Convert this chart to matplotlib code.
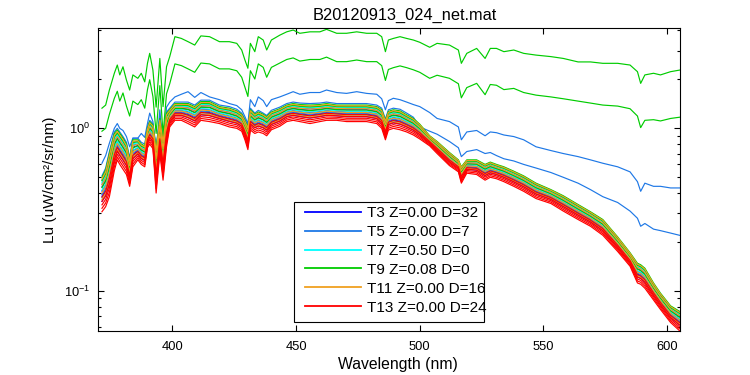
import numpy as np
import matplotlib
matplotlib.use("Agg")
import matplotlib.pyplot as plt
from matplotlib.patches import Rectangle
from matplotlib.ticker import LogLocator, FixedLocator, NullFormatter

plt.rcParams['font.family'] = ['Liberation Sans', 'DejaVu Sans']
plt.rcParams['mathtext.fontset'] = 'custom'
plt.rcParams['mathtext.rm'] = 'Liberation Sans'
plt.rcParams['mathtext.it'] = 'Liberation Sans:italic'

# wavelength grid (nm), shared by all spectra
wl = [371.5, 373, 374.5, 376.5, 377.7, 378.7, 380, 381.4, 382.7, 384, 386, 387.4,
      388.8, 389.9, 390.8, 392.1, 393.4, 394.9, 396.2, 397.6, 398.9, 401, 403.6,
      406.3, 409, 411.5, 415, 419, 423, 426, 428, 429.3, 430.5, 431.5, 433.3, 434.7,
      436.7, 438.1, 440, 443.4, 446.2, 448.8, 451.5, 455.6, 459.6, 462.3, 466.4,
      470.4, 474.5, 478.5, 482.6, 484.6, 486.1, 487.3, 489.3, 492, 494.7, 497.4, 500,
      504, 507, 512, 515.6, 516.8, 519, 523, 526.4, 528.5, 531, 534, 538, 542, 547,
      553, 558, 564, 569, 574, 580, 585, 588, 589.3, 591, 594.5, 597.3, 601.4, 605]

# T9 surface casts (green)
green_1 = [1.33, 1.39, 1.72, 2.18, 2.45, 2.13, 2.39, 1.98, 1.72, 2.13, 2.03, 2.18,
           1.93, 2.51, 2.89, 2.28, 1.35, 2.69, 1.36, 2.39, 2.76, 3.66, 3.57,
           3.41, 3.25, 3.70, 3.66, 3.41, 3.41, 3.33, 3.03, 2.63, 2.34, 3.33, 2.96, 3.66,
           3.49, 3.03, 3.49, 3.74, 3.92, 4.02, 3.84, 3.92, 3.92, 4.06, 3.84,
           3.84, 3.92, 3.84, 3.84, 3.66, 2.96, 3.49, 3.57, 3.66, 3.57, 3.49, 3.38,
           3.15, 3.33, 3.25, 3.03, 2.51, 2.89, 3.10, 2.69, 3.10, 3.10, 2.96, 3.03, 2.89, 2.82,
           2.76, 2.69, 2.56, 2.56, 2.51, 2.51, 2.45, 2.23, 1.89, 2.13, 2.18, 2.13, 2.23, 2.28]
green_2 = [0.96, 1.00, 1.22, 1.53, 1.69, 1.47, 1.65, 1.37, 1.19, 1.47, 1.40, 1.50,
           1.33, 1.73, 1.99, 1.57, 0.93, 1.83, 0.92, 1.63, 1.88, 2.49, 2.43,
           2.32, 2.21, 2.52, 2.49, 2.32, 2.32, 2.26, 2.06, 1.79, 1.57, 2.26, 2.01, 2.49,
           2.37, 2.06, 2.37, 2.52, 2.65, 2.71, 2.59, 2.65, 2.65, 2.74, 2.57,
           2.57, 2.63, 2.57, 2.57, 2.43, 1.97, 2.30, 2.36, 2.42, 2.36, 2.29, 2.21,
           2.03, 2.12, 2.03, 1.88, 1.54, 1.78, 1.89, 1.61, 1.86, 1.84, 1.73, 1.76, 1.66, 1.60,
           1.56, 1.52, 1.47, 1.43, 1.39, 1.37, 1.32, 1.19, 1.01, 1.12, 1.13, 1.11, 1.15, 1.17]

# T5 casts (light blue)
blue_1 = [0.61, 0.68, 0.81, 1.00, 1.07, 1.00, 0.97, 0.89, 0.77, 0.87, 0.87, 0.93,
          0.88, 1.07, 1.24, 1.10, 0.70, 1.30, 0.75, 1.35, 1.45, 1.56, 1.62,
          1.68, 1.55, 1.66, 1.56, 1.50, 1.42, 1.38, 1.30, 1.18, 1.07, 1.50, 1.36, 1.56,
          1.48, 1.36, 1.50, 1.56, 1.62, 1.68, 1.62, 1.66, 1.66, 1.72, 1.66,
          1.64, 1.68, 1.64, 1.62, 1.52, 1.30, 1.48, 1.53, 1.50, 1.45, 1.40, 1.36,
          1.25, 1.15, 1.10, 1.02, 0.85, 0.95, 0.97, 0.90, 0.95, 0.94, 0.91, 0.89, 0.85, 0.77,
          0.73, 0.70, 0.67, 0.64, 0.61, 0.58, 0.54, 0.47, 0.41, 0.46, 0.44, 0.44, 0.43, 0.43]
blue_2 = [0.51, 0.57, 0.72, 0.95, 1.00, 0.95, 0.89, 0.82, 0.66, 0.87, 0.87, 0.82,
          0.80, 1.02, 1.12, 1.07, 0.77, 1.17, 0.87, 1.26, 1.33, 1.45, 1.45,
          1.45, 1.39, 1.49, 1.49, 1.39, 1.36, 1.31, 1.24, 1.14, 1.04, 1.33, 1.24, 1.29,
          1.24, 1.20, 1.29, 1.35, 1.42, 1.45, 1.43, 1.42, 1.43, 1.45, 1.42,
          1.42, 1.42, 1.42, 1.39, 1.33, 1.14, 1.30, 1.33, 1.31, 1.24, 1.17, 1.02,
          0.96, 0.92, 0.83, 0.76, 0.67, 0.72, 0.74, 0.70, 0.71, 0.68, 0.65, 0.63, 0.60, 0.57,
          0.535, 0.50, 0.46, 0.42, 0.38, 0.35, 0.31, 0.28, 0.25, 0.26, 0.24, 0.235, 0.227, 0.22]

# deep casts: upper and lower edge of the bundle
bundle_hi = [0.50, 0.555, 0.70, 0.93, 0.976, 0.93, 0.87, 0.80, 0.64, 0.85, 0.85, 0.80,
             0.78, 1.00, 1.10, 1.05, 0.75, 1.15, 0.85, 1.24, 1.30, 1.42, 1.42,
             1.42, 1.36, 1.46, 1.46, 1.36, 1.33, 1.28, 1.22, 1.12, 1.02, 1.30, 1.22, 1.26,
             1.22, 1.18, 1.26, 1.32, 1.39, 1.42, 1.40, 1.39, 1.40, 1.42, 1.39,
             1.39, 1.39, 1.39, 1.36, 1.30, 1.12, 1.27, 1.30, 1.28, 1.21, 1.15, 1.06,
             0.90, 0.83, 0.71, 0.64, 0.58, 0.64, 0.64, 0.60, 0.62, 0.60, 0.58, 0.545, 0.51, 0.46,
             0.42, 0.385, 0.34, 0.307, 0.275, 0.215, 0.172, 0.148, 0.145, 0.138, 0.112, 0.097, 0.081, 0.075]
bundle_lo = [0.307, 0.33, 0.38, 0.55, 0.64, 0.60, 0.56, 0.52, 0.44, 0.58, 0.64, 0.60,
             0.58, 0.76, 0.80, 0.75, 0.40, 0.70, 0.48, 0.77, 1.02, 1.12, 1.12,
             1.07, 1.02, 1.12, 1.10, 1.07, 1.02, 1.00, 0.96, 0.85, 0.74, 0.976, 0.93, 0.95,
             0.93, 0.90, 0.98, 1.03, 1.10, 1.12, 1.10, 1.07, 1.10, 1.12, 1.12,
             1.10, 1.10, 1.10, 1.07, 1.00, 0.85, 0.976, 1.00, 0.98, 0.95, 0.91, 0.86,
             0.78, 0.70, 0.59, 0.54, 0.46, 0.53, 0.52, 0.48, 0.50, 0.49, 0.47, 0.44, 0.41, 0.37,
             0.345, 0.31, 0.275, 0.25, 0.22, 0.175, 0.142, 0.112, 0.11, 0.104, 0.088, 0.077, 0.064, 0.057]

# legend entries and where each group's deep casts sit inside the bundle (0 = low edge, 1 = high edge)
labels = ['T3 Z=0.00 D=32', 'T5 Z=0.00 D=7', 'T7 Z=0.50 D=0',
          'T9 Z=0.08 D=0', 'T11 Z=0.00 D=16', 'T13 Z=0.00 D=24']
colors = ['#0000ff', '#1e78e6', '#00ffff', '#00cc00', '#f0a020', '#ff0000']
bundle_pos = [[0.30, 0.45, 0.60, 0.72],
              [0.50, 0.80, 0.92],
              [0.40, 0.62, 0.85],
              [0.70, 0.90, 1.00],
              [0.35, 0.55, 0.78, 0.95],
              [0.00, 0.10, 0.20, 0.30, 0.42]]
extra = {1: [blue_1, blue_2], 3: [green_1, green_2]}

wl_a = np.array(wl)
lo = np.log10(bundle_lo)
hi = np.log10(bundle_hi)

fig = plt.figure(figsize=(7.5, 3.75), dpi=100)
ax = fig.add_axes([0.131, 0.1165, 0.775, 0.808])

for g, (lab, col) in enumerate(zip(labels, colors)):
    first = True
    for p in bundle_pos[g]:
        ax.plot(wl_a, 10 ** (lo + p * (hi - lo)), color=col, lw=0.85,
                label=lab if first else None)
        first = False
    for s in extra.get(g, []):
        ax.plot(wl_a, s, color=col, lw=0.85)

ax.set_yscale('log')
ax.set_xlim(370, 605)
ax.set_ylim(0.0565, 4.12)
ax.set_xticks([400, 450, 500, 550, 600])
ax.yaxis.set_major_locator(FixedLocator([0.1, 1]))
ax.set_yticklabels([r'$\mathregular{10^{-1}}$', r'$\mathregular{10^{0}}$'])
ax.yaxis.set_minor_locator(LogLocator(base=10, subs=np.arange(2, 10)))
ax.yaxis.set_minor_formatter(NullFormatter())
ax.tick_params(which='both', direction='in', top=True, right=True, labelsize=9.3)
ax.tick_params(axis='x', pad=7)
ax.tick_params(axis='y', pad=6)
ax.tick_params(which='major', length=4.5, width=0.8)
ax.tick_params(which='minor', length=2.2, width=0.8)
for sp in ax.spines.values():
    sp.set_linewidth(0.8)

ax.set_title('B20120913_024_net.mat', fontsize=11.8, x=0.527, pad=6)
ax.set_xlabel('Wavelength (nm)', fontsize=11.3)
ax.xaxis.set_label_coords(0.516, -0.085)
ax.set_ylabel('Lu (uW/cm\u00b2/sr/nm)', fontsize=11)
ax.yaxis.set_label_coords(-0.071, 0.5)

# MATLAB-style legend: box drawn separately, text runs over its right edge
ax.add_patch(Rectangle((0.3368, 0.0307), 0.3276, 0.397, transform=ax.transAxes,
                       facecolor='white', edgecolor='black', lw=0.8, zorder=4))
leg = ax.legend(loc='upper left', bbox_to_anchor=(0.3558, 0.413), borderaxespad=0,
                borderpad=0, fontsize=11, handlelength=3.66, handletextpad=0.4,
                labelspacing=0.32, frameon=False)
leg.set_zorder(5)
for h in leg.get_lines():
    h.set_linewidth(1.3)

fig.savefig('out.png', dpi=100)
